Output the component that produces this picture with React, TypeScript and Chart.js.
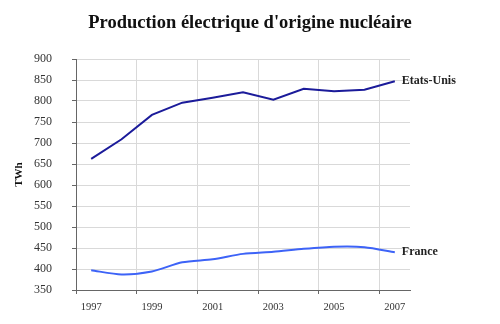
import React, { useEffect, useRef } from "react";
import { Chart, registerables } from "chart.js";

Chart.register(...registerables);

const years = ["1997", "1998", "1999", "2000", "2001", "2002", "2003", "2004", "2005", "2006", "2007"];
const usa = [662, 709, 767, 796, 808, 821, 803, 829, 823, 827, 847];
const france = [397, 387, 394, 416, 423, 436, 441, 448, 453, 452, 440];
const seriesNames = ["Etats-Unis", "France"];
const yTicksMin = 350;
const yTicksMax = 900;
const yStep = 50;
const titleText = "Production électrique d'origine nucléaire";
const yTitle = "TWh";

const SERIF = "'Liberation Serif', 'DejaVu Serif', serif";

const endLabels = {
  id: "endLabels",
  afterDatasetsDraw(chart: any) {
    const ctx = chart.ctx;
    ctx.save();
    ctx.font = `bold 12px ${SERIF}`;
    ctx.fillStyle = "#222";
    ctx.textAlign = "left";
    ctx.textBaseline = "middle";
    chart.data.datasets.forEach((ds: any, i: number) => {
      const meta = chart.getDatasetMeta(i);
      const pt = meta.data[meta.data.length - 1];
      if (pt) ctx.fillText(ds.label, pt.x + 7, pt.y);
    });
    ctx.restore();
  },
};

const centeredTitle = {
  id: "centeredTitle",
  afterDraw(chart: any) {
    const ctx = chart.ctx;
    ctx.save();
    ctx.font = `bold 18.5px ${SERIF}`;
    ctx.fillStyle = "#111";
    ctx.textAlign = "center";
    ctx.textBaseline = "middle";
    ctx.fillText(titleText, chart.width / 2, 23);
    ctx.restore();
  },
};

export default function App() {
  const ref = useRef<HTMLCanvasElement>(null);
  useEffect(() => {
    document.body.style.margin = "0";
    const chart = new Chart(ref.current!, {
      type: "line",
      data: {
        labels: years,
        datasets: [
          {
            label: seriesNames[0],
            data: usa,
            borderColor: "#1b1b9a",
            borderWidth: 2,
            pointRadius: 0,
            tension: 0,
          },
          {
            label: seriesNames[1],
            data: france,
            borderColor: "#3d63f7",
            borderWidth: 2,
            pointRadius: 0,
            tension: 0.25,
          },
        ],
      },
      options: {
        responsive: false,
        animation: false,
        layout: { padding: { left: 0, right: 90, top: 59, bottom: 0 } },
        plugins: {
          legend: { display: false },
          tooltip: { enabled: false },
          title: { display: false },
        },
        scales: {
          x: {
            type: "category",
            offset: true,
            afterFit: (s: any) => {
              s.height = 34;
            },
            border: { color: "#666", width: 1 },
            grid: {
              offset: true,
              color: (c: any) => (c.index % 2 === 0 ? "#d9d9d9" : "rgba(0,0,0,0)"),
              tickColor: (c: any) => (c.index % 2 === 0 ? "#666" : "rgba(0,0,0,0)"),
              tickLength: 4,
            },
            ticks: {
              autoSkip: false,
              maxRotation: 0,
              color: "#333",
              padding: 7,
              font: { family: SERIF, size: 10.5 },
              callback: (_v: any, i: number) => (i % 2 === 0 ? years[i] : ""),
            },
          },
          y: {
            min: yTicksMin,
            max: yTicksMax,
            afterFit: (s: any) => {
              s.width = 76;
            },
            border: { color: "#666", width: 1 },
            grid: { color: "#d9d9d9", tickColor: "#666", tickLength: 4 },
            ticks: {
              stepSize: yStep,
              color: "#333",
              padding: 20,
              font: { family: SERIF, size: 12 },
            },
            title: {
              display: true,
              text: yTitle,
              color: "#111",
              font: { family: SERIF, size: 11, weight: "bold" },
              padding: { top: 13, bottom: 0 },
            },
          },
        },
      },
      plugins: [endLabels, centeredTitle],
    });
    return () => chart.destroy();
  }, []);
  return (
    <div style={{ width: 500, height: 324 }}>
      <canvas ref={ref} width={500} height={324} />
    </div>
  );
}
